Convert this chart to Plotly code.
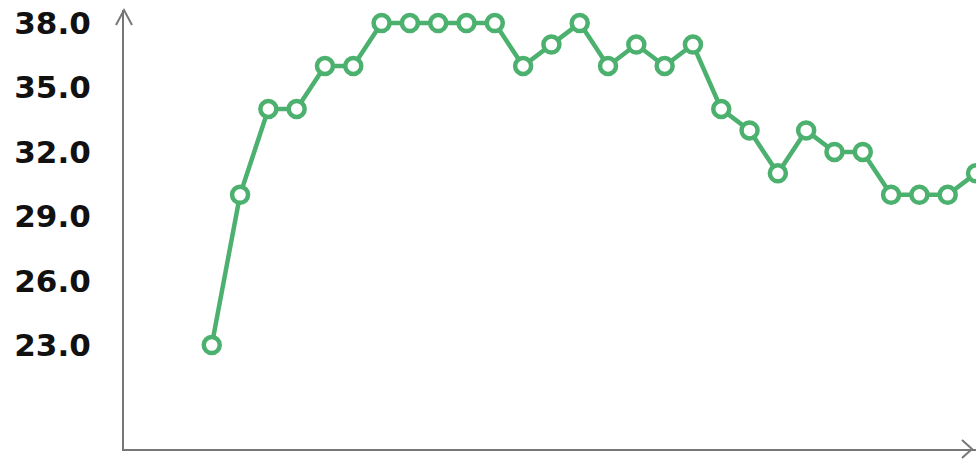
import plotly.graph_objects as go

# Data
days = list(range(1, 29))
values = [23, 30, 34, 34, 36, 36, 38, 38, 38, 38, 38, 36, 37, 38, 36, 37, 36, 37,
          34, 33, 31, 33, 32, 32, 30, 30, 30, 31]
tick_vals = [38, 35, 32, 29, 26, 23]
tick_text = ["38.0", "35.0", "32.0", "29.0", "26.0", "23.0"]

GREEN = "rgb(76,176,110)"
AXIS = "#777777"

fig = go.Figure()
fig.add_trace(go.Scatter(
    x=days, y=values, mode="lines+markers",
    line=dict(color=GREEN, width=4.5),
    marker=dict(size=16, color="white", line=dict(color=GREEN, width=4.5)),
    showlegend=False,
))

fig.update_layout(
    width=976, height=459,
    margin=dict(l=124, r=0, t=10, b=10),
    paper_bgcolor="white", plot_bgcolor="white",
    xaxis=dict(range=[-2.1, 28], showgrid=False, zeroline=False,
               showticklabels=False, ticks="",
               showline=True, linecolor=AXIS, linewidth=2),
    yaxis=dict(range=[18.16, 38.61], showgrid=False, zeroline=False,
               tickvals=tick_vals, ticktext=tick_text, ticks="",
               ticklabelstandoff=25,
               tickfont=dict(family="DejaVu Sans", size=31, color="#111111", weight="bold"),
               showline=True, linecolor=AXIS, linewidth=2),
    shapes=[
        # y-axis arrow head (open chevron) at the top of the axis
        dict(type="path", xref="paper", yref="paper", xsizemode="pixel", ysizemode="pixel",
             xanchor=0, yanchor=1, path="M -8,-15 L 0,0 L 8,-15",
             line=dict(color=AXIS, width=2)),
        # x-axis arrow head at the right end
        dict(type="path", xref="paper", yref="paper", xsizemode="pixel", ysizemode="pixel",
             xanchor=1, yanchor=0, path="M -14,9 L -4,0 L -14,-9",
             line=dict(color=AXIS, width=2)),
    ],
)

fig.write_html("out.html", config={"displayModeBar": False},
               post_script="document.body.style.margin='0';document.body.style.overflow='hidden';")
